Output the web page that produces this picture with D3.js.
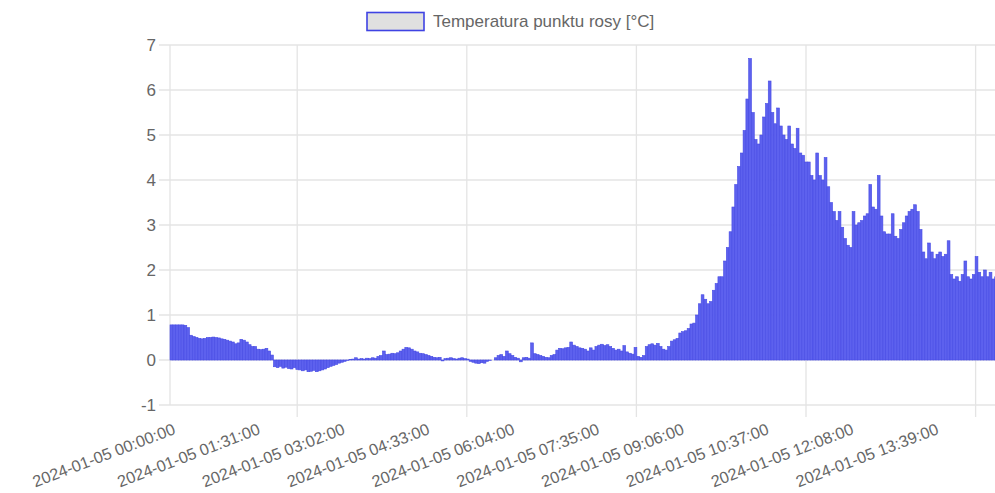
<!DOCTYPE html>
<html>
<head>
<meta charset="utf-8">
<script src="https://cdn.jsdelivr.net/npm/d3@7"></script>
<style>
  html, body { margin: 0; padding: 0; background: #fff; }
  svg { display: block; }
  text { font-family: "Liberation Sans", Arial, Helvetica, sans-serif; }
</style>
</head>
<body>
<svg id="chart" width="995" height="493"></svg>
<script>
// ---- data ----
const SERIES_NAME = "Temperatura punktu rosy [°C]";
const STEP_MIN = 3; // minutes between samples
const TICK_MINUTES = [0, 91, 182, 273, 364, 455, 546, 637, 728, 819];
const TICK_LABELS = [
  "2024-01-05 00:00:00", "2024-01-05 01:31:00", "2024-01-05 03:02:00",
  "2024-01-05 04:33:00", "2024-01-05 06:04:00", "2024-01-05 07:35:00",
  "2024-01-05 09:06:00", "2024-01-05 10:37:00", "2024-01-05 12:08:00",
  "2024-01-05 13:39:00"
];
const Y_TICKS = [-1, 0, 1, 2, 3, 4, 5, 6, 7];
const VALUES = [
  0.78,0.78,0.78,0.78,0.78,0.77,0.72,0.55,0.52,0.50,
  0.48,0.47,0.48,0.50,0.50,0.51,0.50,0.49,0.47,0.46,
  0.44,0.42,0.40,0.36,0.38,0.46,0.44,0.40,0.34,0.30,
  0.30,0.24,0.23,0.24,0.26,0.20,0.11,-0.15,-0.17,-0.14,
  -0.18,-0.16,-0.19,-0.20,-0.17,-0.21,-0.22,-0.24,-0.22,-0.26,
  -0.25,-0.23,-0.26,-0.24,-0.22,-0.20,-0.17,-0.14,-0.12,-0.10,
  -0.07,-0.05,-0.03,-0.01,0.01,0.02,0.05,0.02,0.03,0.02,
  0.04,0.03,0.05,0.04,0.08,0.10,0.20,0.12,0.13,0.15,
  0.14,0.16,0.20,0.24,0.28,0.27,0.24,0.20,0.18,0.15,
  0.14,0.12,0.10,0.08,0.06,0.05,0.06,-0.02,0.03,0.04,
  0.05,0.03,0.02,0.04,0.05,0.03,0.02,-0.03,-0.05,-0.07,
  -0.08,-0.06,-0.07,-0.03,-0.01,0.00,0.05,0.10,0.12,0.08,
  0.20,0.14,0.10,0.06,0.04,-0.04,0.05,0.06,0.04,0.38,
  0.14,0.12,0.10,0.08,0.06,0.05,0.10,0.12,0.22,0.26,
  0.25,0.27,0.28,0.40,0.33,0.30,0.27,0.26,0.24,0.20,
  0.27,0.22,0.30,0.33,0.35,0.32,0.34,0.30,0.26,0.22,
  0.24,0.20,0.32,0.18,0.15,0.13,0.28,0.08,0.06,0.10,
  0.30,0.34,0.36,0.33,0.37,0.30,0.24,0.22,0.30,0.42,
  0.45,0.48,0.60,0.63,0.65,0.70,0.80,0.82,1.00,1.25,
  1.45,1.35,1.25,1.30,1.55,1.70,1.85,1.85,2.20,2.50,
  2.85,3.40,3.90,4.30,4.60,5.10,5.80,6.70,5.50,4.90,
  4.80,5.00,5.40,5.70,6.20,5.50,5.25,5.60,5.20,5.00,
  4.90,5.20,4.80,4.70,5.15,4.60,4.55,4.40,4.40,4.10,
  4.00,4.60,4.10,4.00,4.50,3.85,3.50,3.30,3.10,3.30,
  2.95,2.70,2.55,2.50,3.30,3.00,3.05,3.10,3.20,3.25,
  3.90,3.40,3.35,4.10,3.20,2.85,2.80,2.80,3.25,2.75,
  2.70,2.90,3.05,3.20,3.30,3.35,3.45,3.30,2.90,2.40,
  2.25,2.60,2.40,2.25,2.35,2.40,2.30,2.35,2.65,1.90,
  1.80,1.85,1.75,1.90,2.20,1.85,1.80,1.90,2.30,1.95,
  1.85,2.00,1.85,1.95,1.80,1.85
];
const GRID_MINUTES = [136.5, 318.5, 500.5, 682.5, 864.5];

// ---- layout ----
const svg = d3.select("#chart");
const plotLeft = 170, plotTop = 45, plotBottom = 405;
const x = d3.scaleLinear().domain([0, 910]).range([plotLeft, plotLeft + 848]);
const y = d3.scaleLinear().domain([-1, 7]).range([plotBottom, plotTop]);
const gridColor = "#e4e4e4";
const textColor = "#666";

// horizontal grid
svg.append("g").selectAll("line").data(Y_TICKS).join("line")
  .attr("x1", plotLeft - 11).attr("x2", 995)
  .attr("y1", d => y(d)).attr("y2", d => y(d))
  .attr("stroke", gridColor).attr("stroke-width", 1.3);

// vertical grid
svg.append("g").selectAll("line").data(GRID_MINUTES).join("line")
  .attr("x1", d => x(d)).attr("x2", d => x(d))
  .attr("y1", plotTop).attr("y2", plotBottom + 12)
  .attr("stroke", gridColor).attr("stroke-width", 1.3);
svg.append("line").attr("x1", plotLeft).attr("x2", plotLeft)
  .attr("y1", plotTop).attr("y2", plotBottom)
  .attr("stroke", gridColor).attr("stroke-width", 1.3);

// y labels
svg.append("g").selectAll("text").data(Y_TICKS).join("text")
  .attr("x", plotLeft - 14).attr("y", d => y(d))
  .attr("dy", "0.35em").attr("text-anchor", "end")
  .attr("font-size", 17).attr("fill", textColor)
  .text(d => d);

// bars
const data = VALUES.map((v, i) => ({ t: i * STEP_MIN, v }));
svg.append("g").selectAll("rect").data(data).join("rect")
  .attr("x", d => x(d.t))
  .attr("width", d => x(d.t + STEP_MIN) - x(d.t))
  .attr("y", d => y(Math.max(0, d.v)))
  .attr("height", d => Math.abs(y(d.v) - y(0)))
  .attr("fill", "#5d61ee")
  .attr("stroke", "#474be4")
  .attr("stroke-width", 0.6);

// x labels
svg.append("g").selectAll("text").data(TICK_MINUTES).join("text")
  .attr("transform", d => `translate(${x(d) + 2},${plotBottom + 17}) rotate(-21)`)
  .attr("dy", "0.75em")
  .attr("text-anchor", "end")
  .attr("font-size", 16.3).attr("fill", textColor)
  .text((d, i) => TICK_LABELS[i]);

// legend
const lg = svg.append("g");
lg.append("rect").attr("x", 367).attr("y", 12.5).attr("width", 57).attr("height", 18)
  .attr("fill", "#e0e0e0").attr("stroke", "#3f43e3").attr("stroke-width", 1.6);
lg.append("text").attr("x", 433).attr("y", 21.5).attr("dy", "0.35em")
  .attr("font-size", 17).attr("fill", textColor).text(SERIES_NAME);
</script>
</body>
</html>
